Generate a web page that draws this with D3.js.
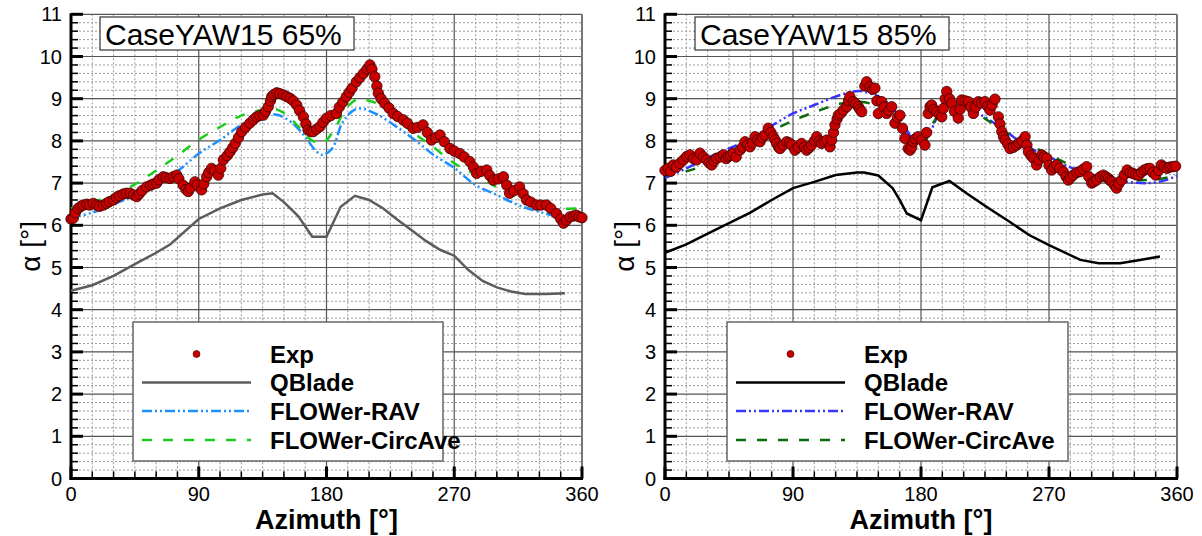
<!DOCTYPE html>
<html>
<head>
<meta charset="utf-8">
<script src="https://cdn.jsdelivr.net/npm/d3@7"></script>
<style>
  body { margin: 0; background: #fff; }
  svg { display: block; font-family: "Liberation Sans", Arial, sans-serif; }
</style>
</head>
<body>
<div id="chart"></div>
<script>
// ---- data ----
const xTicks = [0, 90, 180, 270, 360];
const yTicks = [0, 1, 2, 3, 4, 5, 6, 7, 8, 9, 10, 11];
const legendLabels = ["Exp", "QBlade", "FLOWer-RAV", "FLOWer-CircAve"];

// CaseYAW15 65%
const exp65 = [[0,6.15],[1.6,6.17],[3,6.30],[5,6.40],[7,6.45],[8.7,6.48],[11,6.50],[13,6.48],[15.7,6.52],[18,6.48],
  [20,6.45],[22.8,6.48],[25,6.52],[27,6.56],[29.8,6.60],[32,6.66],[34,6.70],[36.8,6.74],[39,6.76],[41.6,6.76],
  [44,6.72],[46.3,6.68],[48,6.74],[50,6.82],[53.3,6.91],[56,6.95],[58,6.98],[60.4,7.0],[62,7.08],[65,7.15],
  [67,7.13],[69.7,7.11],[72,7.15],[74.5,7.19],[76,7.10],[79,6.95],[81,6.85],[82.6,6.80],[84,6.88],[87.3,7.03],
  [89,6.95],[92,6.84],[93.5,6.98],[95.6,7.15],[97,7.25],[99,7.35],[101,7.30],[103.8,7.19],[105.5,7.35],[107.3,7.55],
  [110,7.65],[112,7.74],[114,7.84],[115.7,7.94],[118,8.08],[120.3,8.22],[123,8.32],[126,8.42],[128.5,8.50],[130.8,8.57],
  [133,8.60],[135.5,8.61],[137,8.70],[139,8.81],[140.5,8.95],[141.4,9.05],[143,9.10],[145,9.14],[147,9.12],[149.6,9.09],
  [152,9.05],[154.3,9.01],[156.5,8.95],[159,8.85],[161,8.72],[163.7,8.57],[165.5,8.40],[167,8.26],[169,8.22],[170.7,8.22],
  [173,8.28],[175.4,8.34],[177.5,8.44],[180,8.54],[183,8.60],[187,8.65],[189,8.80],[191.5,8.92],[194,9.05],[196,9.15],
  [198,9.25],[201,9.40],[203.5,9.50],[206,9.60],[208.5,9.70],[210.6,9.80],[212,9.70],[214,9.52],[215.5,9.30],[216.5,9.13],
  [218.5,9.00],[221,8.89],[224,8.78],[227,8.65],[230,8.58],[234,8.50],[237,8.42],[241,8.30],[244,8.32],[248,8.38],
  [251,8.20],[254,8.02],[257,8.08],[260,8.14],[263,7.98],[267,7.82],[270,7.76],[274,7.70],[277,7.62],[281,7.51],
  [283.5,7.38],[285.8,7.23],[289,7.28],[292.9,7.31],[295,7.18],[297.5,7.07],[301,7.10],[304.6,7.15],[307,6.95],[309,6.76],
  [312,6.82],[316,6.91],[318.5,6.75],[321,6.60],[324,6.55],[328,6.48],[331,6.48],[335,6.48],[338,6.40],[342,6.28],
  [345,6.15],[347,6.05],[349,6.12],[351.5,6.20],[354,6.22],[356,6.24],[358,6.20],[360,6.18]];
const qblade65 = [[0,4.45],[15,4.58],[30,4.80],[45,5.08],[60,5.35],[70,5.55],[80,5.85],[90,6.15],[105,6.40],[120,6.60],
  [135,6.73],[142,6.76],[150,6.55],[160,6.22],[170,5.73],[180,5.73],[190,6.44],[200,6.70],[210,6.60],[220,6.40],
  [230,6.13],[240,5.88],[250,5.63],[260,5.42],[270,5.28],[280,4.94],[290,4.68],[300,4.53],[310,4.43],[320,4.37],
  [335,4.37],[348,4.39]];
const rav65 = [[0,6.18],[15,6.30],[30,6.50],[45,6.70],[60,6.95],[75,7.28],[90,7.70],[105,8.02],[120,8.38],[135,8.60],
  [145,8.62],[155,8.45],[165,8.10],[172,7.78],[177,7.67],[184,7.82],[191,8.42],[198,8.70],[204,8.77],[216,8.62],
  [230,8.32],[245,7.95],[255,7.68],[270,7.36],[285,6.95],[300,6.72],[315,6.48],[330,6.32],[345,6.20],[360,6.18]];
const circ65 = [[0,6.40],[15,6.55],[30,6.72],[45,6.97],[60,7.30],[75,7.65],[90,8.03],[105,8.33],[120,8.60],[135,8.74],
  [142,8.77],[150,8.66],[160,8.35],[168,8.05],[177,7.94],[186,8.30],[194,8.78],[202,8.99],[210,8.95],[218,8.85],
  [231,8.46],[245,8.10],[255,7.86],[270,7.47],[285,7.20],[300,6.90],[315,6.65],[330,6.48],[345,6.40],[360,6.40]];

// CaseYAW15 85%
const exp85 = [[0,7.30],[2.3,7.35],[4,7.28],[5.8,7.43],[8,7.38],[10.5,7.47],[13,7.55],[15.2,7.63],[17.6,7.67],[20,7.58],
  [22.3,7.55],[24.6,7.71],[27,7.62],[29.3,7.55],[31,7.48],[32.8,7.43],[34.5,7.52],[36.3,7.59],[39,7.62],[41,7.67],
  [43,7.58],[44.5,7.63],[46,7.66],[48,7.71],[50,7.62],[52.7,7.78],[54.5,7.85],[56.3,7.98],[58,7.90],[59.8,7.86],
  [61.5,7.95],[63.3,8.10],[65,8.02],[66.8,7.98],[68.5,8.08],[70.3,8.14],[72.6,8.30],[74.5,8.20],[76.1,8.10],[77.5,8.02],
  [78.5,7.94],[80,7.85],[80.9,7.82],[83,7.90],[85.6,7.98],[87.5,7.95],[89,7.90],[91.4,7.78],[93.5,7.85],[96,7.94],
  [98,7.85],[99.6,7.78],[101.5,7.84],[103,7.90],[105,8.00],[106.7,8.10],[108.5,8.00],[110,7.94],[112,7.98],[113.7,8.02],
  [116,7.86],[117.2,8.02],[118.5,8.20],[119.5,8.38],[121,8.52],[121.9,8.61],[123.5,8.65],[125.4,8.73],[127.8,8.81],[129,8.95],
  [130,9.05],[132.4,8.93],[134,8.88],[135.9,8.81],[137,8.75],[138.3,8.69],[140.5,9.30],[141.8,9.40],[144.1,9.28],[146,9.22],
  [147.6,9.25],[149,8.95],[150,8.65],[152.4,8.93],[154,8.80],[155.9,8.65],[157.5,8.72],[159.4,8.81],[161.7,8.42],[163.5,8.55],
  [165.2,8.61],[167,8.30],[168.7,8.06],[171,7.82],[172.3,7.78],[173.5,7.85],[174.6,7.98],[176,8.05],[178,8.10],[180.5,8.02],
  [182.8,7.90],[184,8.20],[185.1,8.65],[186.3,8.81],[187.5,8.85],[189,8.75],[191,8.69],[193,8.62],[194.6,8.57],[195.7,8.77],
  [197,9.00],[198.1,9.17],[200,9.00],[201.6,8.89],[203.5,8.70],[206.2,8.54],[207.5,8.75],[208.6,8.97],[211,8.95],[213.3,8.93],
  [215,8.80],[216.8,8.65],[218.5,8.80],[220.3,8.93],[222.5,8.90],[225,8.93],[226.8,8.82],[228.5,8.73],[230,8.85],[232,8.99],
  [234.4,8.57],[235.5,8.40],[236.8,8.22],[238,8.10],[239.2,8.02],[241,7.92],[242.6,7.82],[245,7.85],[247.3,7.90],[249,7.95],
  [251,8.00],[253.2,8.10],[254.5,7.90],[255.5,7.74],[257.5,7.65],[259,7.59],[261.3,7.43],[263,7.55],[264.9,7.67],[266.5,7.62],
  [268.4,7.59],[270,7.42],[271.9,7.31],[273.5,7.38],[275.4,7.43],[277.5,7.35],[280,7.27],[282,7.15],[283.6,7.07],[285,7.12],
  [287.1,7.19],[289.5,7.25],[291.8,7.27],[294,7.33],[296.5,7.39],[298,7.15],[300,7.00],[301.5,7.03],[303.5,7.07],[306,7.15],
  [308.2,7.19],[310,7.15],[311.7,7.11],[313,7.06],[314.5,7.03],[316,6.95],[317.5,6.88],[319,6.98],[321,7.07],[323,7.20],
  [325,7.31],[327,7.25],[329,7.23],[331,7.20],[333,7.19],[335,7.26],[337,7.31],[339,7.34],[341,7.35],[343,7.25],
  [345,7.19],[347,7.30],[349,7.43],[351,7.38],[353,7.35],[355,7.38],[357,7.39],[359,7.40]];
const qblade85 = [[0,5.35],[15,5.55],[30,5.80],[45,6.05],[60,6.30],[75,6.60],[90,6.88],[105,7.03],[120,7.19],[135,7.25],
  [140,7.25],[150,7.18],[160,6.88],[165,6.60],[170,6.28],[180,6.12],[188,6.90],[200,7.05],[212,6.76],[226,6.44],
  [242,6.09],[256,5.77],[270,5.53],[282,5.34],[292,5.18],[305,5.10],[320,5.10],[334,5.18],[348,5.26]];
const rav85 = [[0,7.12],[15,7.35],[30,7.60],[45,7.82],[60,8.05],[75,8.36],[90,8.65],[105,8.85],[120,9.05],[130,9.15],
  [137,9.18],[145,9.12],[152,9.02],[160,8.78],[167,8.45],[174,8.05],[180,7.98],[186,8.18],[192,8.60],[200,8.88],
  [212,8.78],[226,8.54],[240,8.22],[254,7.88],[270,7.62],[287,7.35],[306,7.15],[325,7.03],[340,7.00],[352,7.07],[360,7.18]];
const circ85 = [[0,7.18],[15,7.28],[30,7.45],[45,7.68],[60,7.94],[80,8.32],[95,8.55],[110,8.74],[123,8.88],[137,8.93],
  [147,8.85],[156,8.65],[165,8.26],[175,7.88],[182,7.95],[189,8.45],[199,8.85],[212,8.80],[228,8.46],[245,8.10],
  [259,7.86],[275,7.59],[296,7.27],[315,7.11],[334,7.07],[350,7.11],[360,7.20]];

const width = 1202, height = 536;
const plotTop = 14.3, plotBottom = 478.5;

let svg = d3.select("#chart")
    .append("svg")
    .attr("width", width)
    .attr("height", height);

const panels = [
    {title: "CaseYAW15 65%", left: 71, right: 582, titleX: 100, titleW: 254, legendX: 133, legendW: 310,
     exp: exp65, qblade: qblade65, rav: rav65, circ: circ65,
     qColor: "#5c5c5c", ravColor: "#1e8fff", circColor: "#1ccc1c"},
    {title: "CaseYAW15 85%", left: 665, right: 1177, titleX: 695, titleW: 254, legendX: 727, legendW: 341,
     exp: exp85, qblade: qblade85, rav: rav85, circ: circ85,
     qColor: "#000000", ravColor: "#3535ff", circColor: "#0b6a0b"}
];

panels.forEach(drawPanel);

function drawPanel(p) {
    let g = svg.append("g");

    let x = d3.scaleLinear().domain([0, 360]).range([p.left, p.right]);
    let y = d3.scaleLinear().domain([0, 11]).range([plotBottom, plotTop]);

    // minor grid (dotted)
    let minorX = d3.range(15, 360, 15).filter(d => d % 90 !== 0);
    let minorY = d3.range(1, 55).map(d => d / 5).filter(d => Math.abs(d - Math.round(d)) > 0.01);
    g.selectAll(".mx").data(minorX).enter().append("line")
        .attr("x1", d => x(d)).attr("x2", d => x(d))
        .attr("y1", plotTop).attr("y2", plotBottom)
        .style("stroke", "#999").style("stroke-width", 1).style("stroke-dasharray", "2,2");
    g.selectAll(".my").data(minorY).enter().append("line")
        .attr("x1", p.left).attr("x2", p.right)
        .attr("y1", d => y(d)).attr("y2", d => y(d))
        .style("stroke", "#999").style("stroke-width", 1).style("stroke-dasharray", "2,2");

    // major grid
    g.selectAll(".gx").data([90, 180, 270]).enter().append("line")
        .attr("x1", d => x(d)).attr("x2", d => x(d))
        .attr("y1", plotTop).attr("y2", plotBottom)
        .style("stroke", "#555").style("stroke-width", 1.2);
    g.selectAll(".gy").data(yTicks.slice(1)).enter().append("line")
        .attr("x1", p.left).attr("x2", p.right)
        .attr("y1", d => y(d)).attr("y2", d => y(d))
        .style("stroke", "#555").style("stroke-width", 1.2);

    // right border
    g.append("line")
        .attr("x1", p.right).attr("x2", p.right).attr("y1", plotTop).attr("y2", plotBottom)
        .style("stroke", "#777").style("stroke-width", 2);

    // ticks, drawn inward
    g.selectAll(".tmy").data(minorY).enter().append("line")
        .attr("x1", p.left).attr("x2", p.left + 7)
        .attr("y1", d => y(d)).attr("y2", d => y(d))
        .style("stroke", "#000").style("stroke-width", 1.5);
    g.selectAll(".tMy").data(yTicks).enter().append("line")
        .attr("x1", p.left).attr("x2", p.left + 12)
        .attr("y1", d => y(d)).attr("y2", d => y(d))
        .style("stroke", "#000").style("stroke-width", 3);
    g.selectAll(".tmx").data(minorX).enter().append("line")
        .attr("x1", d => x(d)).attr("x2", d => x(d))
        .attr("y1", plotBottom).attr("y2", plotBottom - 7)
        .style("stroke", "#000").style("stroke-width", 1.5);
    g.selectAll(".tMx").data(xTicks).enter().append("line")
        .attr("x1", d => x(d)).attr("x2", d => x(d))
        .attr("y1", plotBottom).attr("y2", plotBottom - 12)
        .style("stroke", "#000").style("stroke-width", 3);

    // axis lines
    g.append("line").attr("x1", p.left).attr("x2", p.left).attr("y1", plotTop - 1).attr("y2", plotBottom + 1.5)
        .style("stroke", "#000").style("stroke-width", 3);
    g.append("line").attr("x1", p.left - 1.5).attr("x2", p.right + 1).attr("y1", plotBottom).attr("y2", plotBottom)
        .style("stroke", "#000").style("stroke-width", 3);

    // tick labels
    g.selectAll(".ly").data(yTicks).enter().append("text")
        .attr("x", p.left - 9).attr("y", d => y(d) + 7)
        .attr("text-anchor", "end")
        .style("font-size", "20px")
        .text(d => d);
    g.selectAll(".lx").data(xTicks).enter().append("text")
        .attr("x", d => x(d)).attr("y", 501)
        .attr("text-anchor", "middle")
        .style("font-size", "20px")
        .text(d => d);

    // axis titles
    g.append("text")
        .attr("x", (p.left + p.right) / 2).attr("y", 529)
        .attr("text-anchor", "middle")
        .style("font-size", "27px").style("font-weight", "bold")
        .text("Azimuth [°]");
    g.append("text")
        .attr("transform", `translate(${p.left - 31}, ${(plotTop + plotBottom) / 2}) rotate(-90)`)
        .attr("text-anchor", "middle")
        .style("font-size", "28px")
        .text("α [°]");

    // model lines
    let line = d3.line().x(d => x(d[0])).y(d => y(d[1]));
    let smooth = d3.line().x(d => x(d[0])).y(d => y(d[1])).curve(d3.curveCatmullRom);

    g.append("path").datum(p.qblade).attr("d", line)
        .style("fill", "none").style("stroke", p.qColor).style("stroke-width", 2.5);
    g.append("path").datum(p.rav).attr("d", smooth)
        .style("fill", "none").style("stroke", p.ravColor).style("stroke-width", 2.5)
        .style("stroke-dasharray", "10,3,2,3,2,3");
    g.append("path").datum(p.circ).attr("d", smooth)
        .style("fill", "none").style("stroke", p.circColor).style("stroke-width", 2.5)
        .style("stroke-dasharray", "10,11");

    // experiment markers
    g.selectAll(".exp").data(p.exp).enter().append("circle")
        .attr("cx", d => x(d[0])).attr("cy", d => y(d[1]))
        .attr("r", 5.2)
        .style("fill", "#c80000").style("stroke", "#3a0000").style("stroke-width", 0.8);

    // title box
    g.append("rect")
        .attr("x", p.titleX).attr("y", 17).attr("width", p.titleW).attr("height", 33)
        .style("fill", "#fff").style("stroke", "#333").style("stroke-width", 1.2);
    g.append("text")
        .attr("x", p.titleX + 5).attr("y", 44.5)
        .style("font-size", "30px")
        .text(p.title);

    // legend
    let lg = g.append("g");
    lg.append("rect")
        .attr("x", p.legendX).attr("y", 322).attr("width", p.legendW).attr("height", 139)
        .style("fill", "#fff").style("stroke", "#666").style("stroke-width", 1.5);
    let rows = [354, 382.5, 411, 440];
    let lx1 = p.legendX + 9, lx2 = p.legendX + 118, tx = p.legendX + 137;
    lg.append("circle").attr("cx", (lx1 + lx2) / 2).attr("cy", rows[0]).attr("r", 3.5)
        .style("fill", "#c80000").style("stroke", "#3a0000").style("stroke-width", 0.6);
    lg.append("line").attr("x1", lx1).attr("x2", lx2).attr("y1", rows[1]).attr("y2", rows[1])
        .style("stroke", p.qColor).style("stroke-width", 2.5);
    lg.append("line").attr("x1", lx1).attr("x2", lx2).attr("y1", rows[2]).attr("y2", rows[2])
        .style("stroke", p.ravColor).style("stroke-width", 2.5).style("stroke-dasharray", "10,3,2,3,2,3");
    lg.append("line").attr("x1", lx1).attr("x2", lx2).attr("y1", rows[3]).attr("y2", rows[3])
        .style("stroke", p.circColor).style("stroke-width", 2.5).style("stroke-dasharray", "10,11");
    lg.selectAll(".lt").data(legendLabels).enter().append("text")
        .attr("x", tx).attr("y", (d, i) => rows[i] + 8.5)
        .style("font-size", "24px").style("font-weight", "bold")
        .text(d => d);
}
</script>
</body>
</html>
